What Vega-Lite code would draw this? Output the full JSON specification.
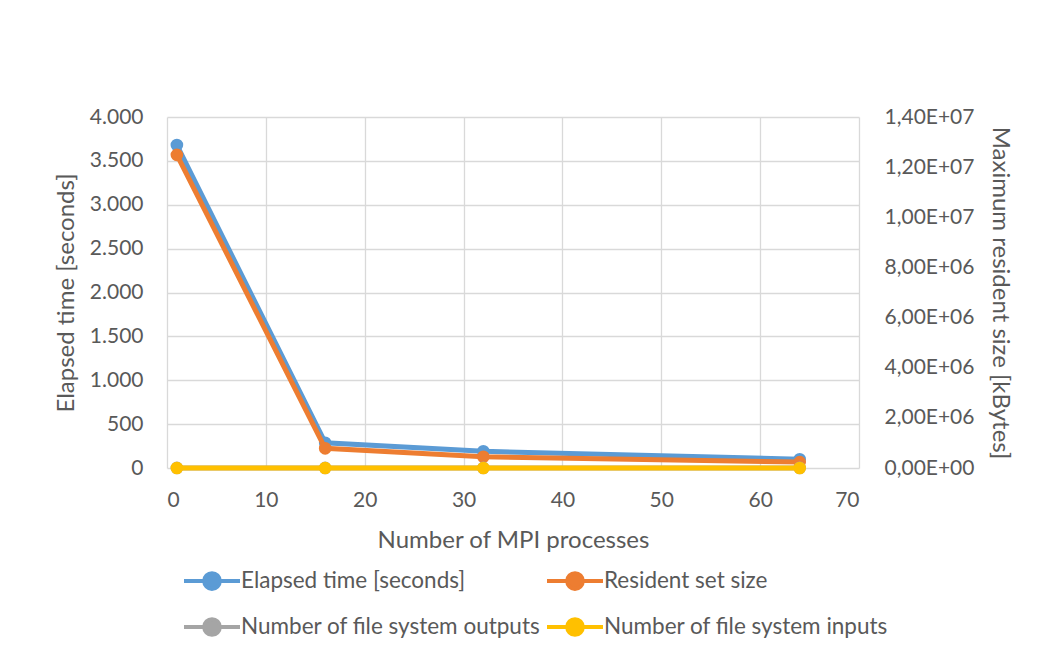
{
  "$schema": "https://vega.github.io/schema/vega-lite/v6.json",
  "width": 692,
  "height": 351,
  "autosize": {"type": "none"},
  "padding": {"left": 167, "top": 117, "right": 203, "bottom": 189},
  "background": "white",
  "config": {
    "font": "Lato",
    "view": {"stroke": null},
    "axis": {
      "labelFont": "Lato",
      "titleFont": "Lato",
      "labelColor": "#595959",
      "titleColor": "#595959",
      "labelFontSize": 21,
      "titleFontSize": 24,
      "titleFontWeight": "normal",
      "gridColor": "#d9d9d9",
      "gridWidth": 1.3,
      "domain": false,
      "ticks": false
    },
    "legend": {
      "labelFont": "Lato",
      "labelFontSize": 22.5,
      "labelColor": "#595959",
      "labelLimit": 500
    }
  },
  "data": {
    "values": [
      {"procs": 1, "elapsed": 3680, "rss": 12490000, "outputs": 1, "inputs": 0},
      {"procs": 16, "elapsed": 288, "rss": 785000, "outputs": 1, "inputs": 0},
      {"procs": 32, "elapsed": 190, "rss": 450000, "outputs": 1, "inputs": 0},
      {"procs": 64, "elapsed": 100, "rss": 235000, "outputs": 1, "inputs": 0}
    ]
  },
  "encoding": {
    "x": {
      "field": "procs",
      "type": "quantitative",
      "scale": {"domain": [0, 70], "nice": false},
      "axis": {
        "values": [0, 10, 20, 30, 40, 50, 60, 70],
        "title": "Number of MPI processes",
        "labelPadding": 21,
        "titlePadding": 18,
        "grid": true
      }
    }
  },
  "layer": [
    {
      "mark": {"type": "line", "strokeWidth": 5, "point": {"filled": true, "size": 160}},
      "encoding": {
        "y": {
          "field": "elapsed",
          "type": "quantitative",
          "scale": {"domain": [0, 4000], "nice": false},
          "axis": {
            "values": [0, 500, 1000, 1500, 2000, 2500, 3000, 3500, 4000],
            "labelExpr": "replace(format(datum.value, ','), ',', '.')",
            "title": "Elapsed time [seconds]",
            "labelPadding": 24,
            "titlePadding": 11,
            "grid": true
          }
        },
        "color": {"datum": "Elapsed time [seconds]"}
      }
    },
    {
      "mark": {"type": "line", "strokeWidth": 5, "point": {"filled": true, "size": 160}},
      "encoding": {
        "y": {
          "field": "rss",
          "type": "quantitative",
          "scale": {"domain": [0, 14000000], "nice": false},
          "axis": {
            "orient": "right",
            "values": [0, 2000000, 4000000, 6000000, 8000000, 10000000, 12000000, 14000000],
            "labelExpr": "replace(replace(format(datum.value, '.2e'), '.', ','), 'e+', 'E+0')",
            "title": "Maximum resident size [kBytes]",
            "labelPadding": 25,
            "titlePadding": 14,
            "grid": false
          }
        },
        "color": {"datum": "Resident set size"}
      }
    },
    {
      "mark": {"type": "line", "strokeWidth": 5, "point": {"filled": true, "size": 160}},
      "encoding": {
        "y": {
          "field": "outputs",
          "type": "quantitative",
          "scale": {"domain": [0, 4000], "nice": false},
          "axis": null
        },
        "color": {"datum": "Number of file system outputs"}
      }
    },
    {
      "mark": {"type": "line", "strokeWidth": 5, "point": {"filled": true, "size": 160}},
      "encoding": {
        "y": {
          "field": "inputs",
          "type": "quantitative",
          "scale": {"domain": [0, 4000], "nice": false},
          "axis": null
        },
        "color": {
          "datum": "Number of file system inputs",
          "type": "nominal",
          "scale": {
            "domain": ["Elapsed time [seconds]", "Resident set size", "Number of file system outputs", "Number of file system inputs"],
            "range": ["#5B9BD5", "#ED7D31", "#A5A5A5", "#FFC000"]
          },
          "legend": {
            "title": null,
            "orient": "none",
            "direction": "horizontal",
            "legendX": 15,
            "legendY": 434,
            "columns": 2,
            "columnPadding": -2,
            "rowPadding": 0,
            "symbolType": "M-1,0L1,0M-0.28,0A0.28,0.28,0,1,0,0.28,0A0.28,0.28,0,1,0,-0.28,0Z",
            "symbolSize": 3136,
            "symbolStrokeWidth": 4,
            "labelOffset": -1,
            "encode": {
              "symbols": {
                "update": {
                  "fill": {"scale": "color", "field": "value"},
                  "stroke": {"scale": "color", "field": "value"},
                  "opacity": {"value": 1}
                }
              }
            }
          }
        }
      }
    }
  ],
  "resolve": {"scale": {"y": "independent"}}
}
